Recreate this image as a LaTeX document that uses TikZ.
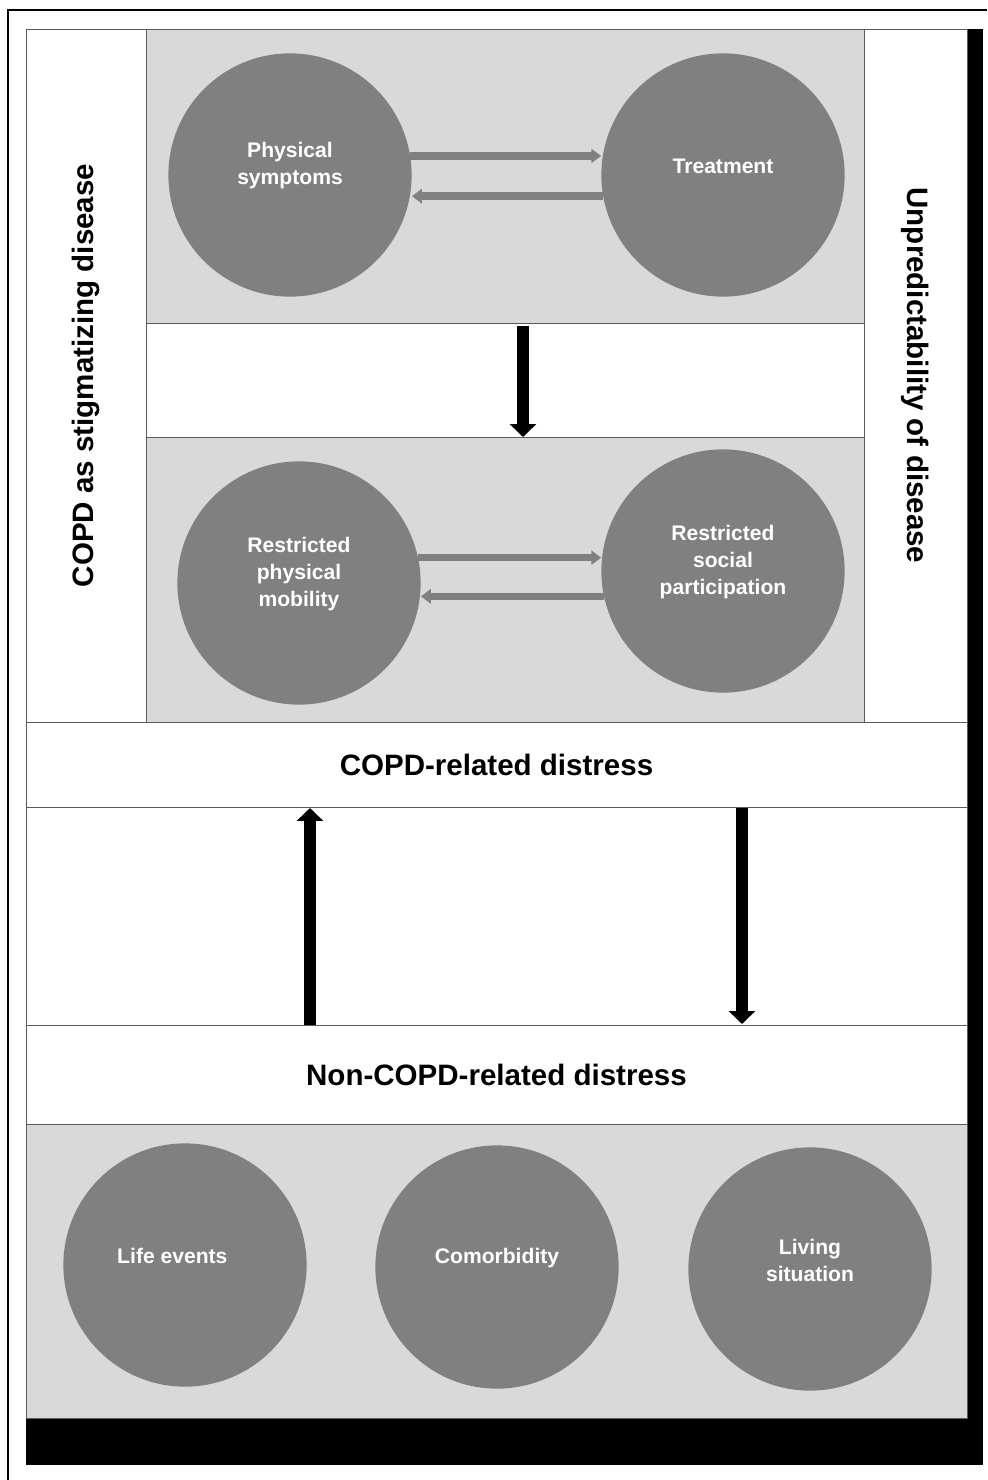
\documentclass[tikz,border=0pt]{standalone}
\usepackage{fontspec}
\setmainfont{Liberation Sans}
\usetikzlibrary{arrows.meta}

\definecolor{panelgray}{HTML}{D9D9D9}
\definecolor{bubblegray}{HTML}{808080}
\definecolor{rulegray}{HTML}{5A5A5A}

\tikzset{
  bubble/.style={circle, fill=bubblegray, minimum size=6.08cm, inner sep=0pt},
  bubtxt/.style={text=white, font=\fontsize{15}{19.2}\selectfont\bfseries, align=center, yshift=6.4pt},
  bandtxt/.style={font=\fontsize{21}{25}\selectfont\bfseries},
  rule/.style={draw=rulegray, line width=0.7pt},
  flow/.style={bubblegray, line width=5.3pt, -{Triangle[width=10pt,length=7pt]}},
  push/.style={black, line width=9.2pt, -{Triangle[width=18.4pt,length=9.2pt]}}
}

\begin{document}
\begin{tikzpicture}[x=0.025cm, y=-0.025cm]
      % Page size (pixels of the figure)
      \useasboundingbox (0,0) rectangle (987,1480);

      % Outer frame
      \draw[line width=0.8pt] (8,1480) -- (8,10) -- (987,10);

      % Black drop shadow, then the white main box
      \fill[black] (26,29) rectangle (983,1465);
      \fill[white] (26,29) rectangle (967,1418);

      % Gray panels
      \fill[panelgray] (146,29) rectangle (864,323);
      \fill[panelgray] (146,437) rectangle (864,722);
      \fill[panelgray] (26,1124) rectangle (967,1418);

      % Frame and dividing lines
      \draw[rule] (26,29) rectangle (967,1418);
      \draw[rule] (146,29) -- (146,722);
      \draw[rule] (864,29) -- (864,722);
      \draw[rule] (146,323) -- (864,323);
      \draw[rule] (146,437) -- (864,437);
      \foreach \y in {722,807,1025,1124} {
        \draw[rule] (26,\y) -- (967,\y);
      }

      % Side headings
      \node[bandtxt, rotate=90] (stigma) at (86,375.5) {COPD as stigmatizing disease};
      \node[bandtxt, rotate=-90] (unpred) at (915.5,375.5) {Unpredictability of disease};

      % Band headings
      \node[bandtxt] (copdband) at (496.5,764.5) {COPD-related distress};
      \node[bandtxt] (otherband) at (496.5,1074.5) {Non-COPD-related distress};

      % Circles, top panel
      \node[bubble, label={[bubtxt]center:Physical\\symptoms}] (phys) at (290,175) {};
      \node[bubble, label={[bubtxt]center:Treatment}] (treat) at (723,175) {};

      % Circles, lower panel
      \node[bubble, label={[bubtxt]center:Restricted\\physical\\mobility}] (mob) at (299,583) {};
      \node[bubble, label={[bubtxt]center:Restricted\\social\\participation}] (soc) at (723,571) {};

      % Circles, bottom panel
      \node[bubble, label={[bubtxt, xshift=-9pt]center:Life events}] (life) at (185,1265) {};
      \node[bubble, label={[bubtxt]center:Comorbidity}] (comor) at (497,1267) {};
      \node[bubble, label={[bubtxt]center:Living\\situation}] (living) at (810,1269) {};

      % Gray arrows between circles
      \draw[flow] (phys.9) -- (phys.9 -| treat.west);
      \draw[flow] (treat.190) -- (treat.190 -| phys.east);
      \draw[flow] (mob.12) -- (mob.12 -| soc.west);
      \draw[flow] (soc.192) -- (soc.192 -| mob.east);

      % Black arrows
      \coordinate (downtop) at (523,326);
      \coordinate (downbot) at (523,437);
      \coordinate (upbot) at (310,1025);
      \coordinate (uptop) at (310,808);
      \coordinate (rtop) at (742,808);
      \coordinate (rbot) at (742,1024);
      \draw[push] (downtop) -- (downbot);
      \draw[push] (upbot) -- (uptop);
      \draw[push] (rtop) -- (rbot);
    \end{tikzpicture}
\end{document}
